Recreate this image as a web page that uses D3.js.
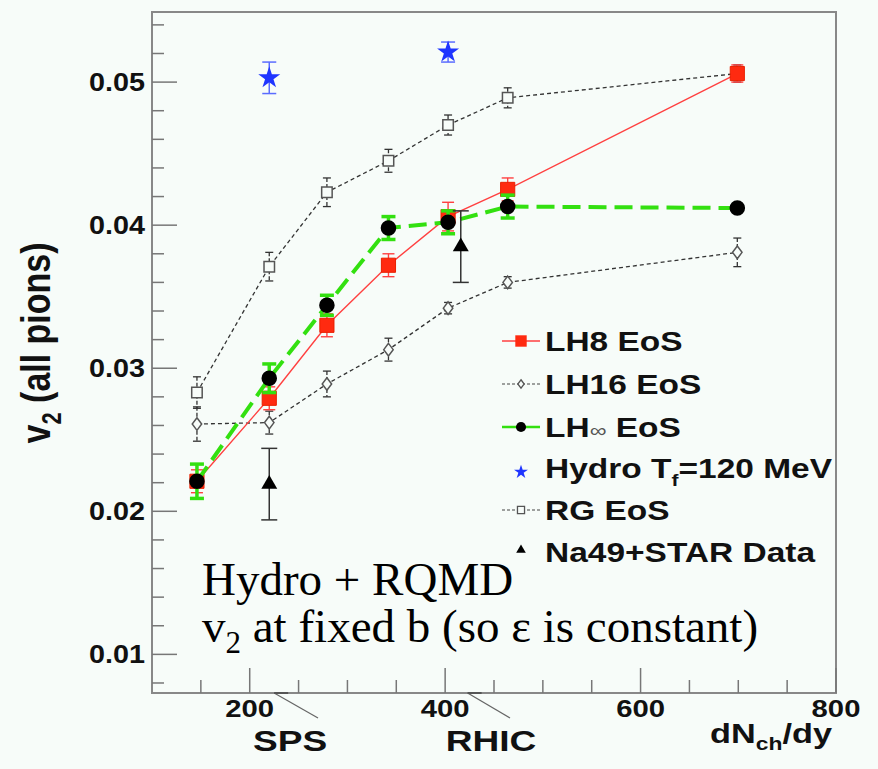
<!DOCTYPE html>
<html><head><meta charset="utf-8">
<script src="https://cdn.jsdelivr.net/npm/d3@7"></script>
<style>
html,body{margin:0;padding:0;background:#f7fcf9;}
svg{display:block;}
</style></head>
<body>
<script>
// ---------- data ----------
const xVals   = [146, 220, 279, 342, 403, 464, 699];
const lh8     = [0.0221, 0.0279, 0.0330, 0.0372, 0.0406, 0.0425, 0.0506];
const lh8Err  = [0.0008, 0.0008, 0.0008, 0.0008, 0.0010, 0.0008, 0.0006];
const lh16    = [0.0261, 0.0262, 0.0289, 0.0313, 0.0342, 0.0360, 0.0381];
const lh16Err = [0.0012, 0.0008, 0.0009, 0.0008, 0.0004, 0.0004, 0.0010];
const lhInf   = [0.0221, 0.0293, 0.0344, 0.0398, 0.0402, 0.0413, 0.0412];
const lhInfErr= [0.0012, 0.0010, 0.0007, 0.0008, 0.0008, 0.0008, 0.0000];
const rg      = [0.0283, 0.0371, 0.0423, 0.0445, 0.0470, 0.0489, 0.0506];
const rgErr   = [0.0011, 0.0010, 0.0010, 0.0008, 0.0007, 0.0007, 0.0006];
const hydroX  = [220, 403];
const hydroY  = [0.0503, 0.0521];
const hydroErr= [0.0011, 0.0007];
const expX    = [220, 416];
const expY    = [0.0219, 0.0385];
const expErr  = [0.0025, 0.0025];
const xMajorTicks = [200, 400, 600, 800];
const xMinorTicks = [150, 250, 300, 350, 450, 500, 550, 650, 700, 750];
const yMajorTicks = [0.01, 0.02, 0.03, 0.04, 0.05];
const yMinorTicks = [0.008,0.012,0.014,0.016,0.018,0.022,0.024,0.026,0.028,0.032,0.034,0.036,0.038,0.042,0.044,0.046,0.048,0.052,0.054];
const legendLabels = ["LH8 EoS","LH16 EoS","LH\u221E EoS","Hydro T_f=120 MeV","RG EoS","Na49+STAR Data"];

// ---------- setup ----------
const W = 878, H = 769;
const L = 152, R = 836, T = 12, B = 693;
const SX = 1.22; // horizontal stretch of sans text
const svg = d3.select("body").append("svg").attr("width", W).attr("height", H);
svg.append("rect").attr("width", W).attr("height", H).attr("fill", "#f7fcf9");

const x = d3.scaleLinear().domain([100, 800]).range([L, R]);
const y = d3.scaleLinear().domain([0.0073, 0.0549]).range([B, T]);

const SANS = "'Liberation Sans', Arial, Helvetica, sans-serif";
const SERIF = "'Liberation Serif', 'Times New Roman', serif";

function sText(px, py, anchor, size, sx) {
  const g = svg.append("g").attr("transform", `translate(${px},${py}) scale(${sx||SX},1)`);
  return g.append("text").attr("text-anchor", anchor)
    .attr("font-family", SANS).attr("font-weight", "bold").attr("font-size", size).attr("fill", "#111");
}

// ---------- axes frame & ticks ----------
const axisCol = "#888";
svg.append("rect").attr("x", L).attr("y", T).attr("width", R - L).attr("height", B - T)
  .attr("fill", "none").attr("stroke", axisCol).attr("stroke-width", 2);

svg.selectAll(".xmaj").data(xMajorTicks).join("line")
  .attr("x1", d => x(d)).attr("x2", d => x(d)).attr("y1", B).attr("y2", B - 25)
  .attr("stroke", "#777").attr("stroke-width", 1.5);
svg.selectAll(".xmin").data(xMinorTicks).join("line")
  .attr("x1", d => x(d)).attr("x2", d => x(d)).attr("y1", B).attr("y2", B - 13)
  .attr("stroke", "#777").attr("stroke-width", 1.5);
svg.selectAll(".ymaj").data(yMajorTicks).join("line")
  .attr("x1", L).attr("x2", L + 25).attr("y1", d => y(d)).attr("y2", d => y(d))
  .attr("stroke", "#777").attr("stroke-width", 1.5);
svg.selectAll(".ymin").data(yMinorTicks).join("line")
  .attr("x1", L).attr("x2", L + 12).attr("y1", d => y(d)).attr("y2", d => y(d))
  .attr("stroke", "#777").attr("stroke-width", 1.5);

// tick labels
xMajorTicks.forEach(d => sText(x(d), 717, "middle", 24).text(d3.format("d")(d)));
yMajorTicks.forEach(d => sText(145, y(d) + 9, "end", 25, 1.15).text(d3.format(".2f")(d)));

// axis titles
{
  const g = svg.append("g").attr("transform", `translate(50,343) rotate(-90) scale(1,${SX})`);
  const t = g.append("text").attr("text-anchor", "middle").attr("font-family", SANS)
    .attr("font-weight", "bold").attr("font-size", 34).attr("fill", "#111");
  t.append("tspan").text("v");
  t.append("tspan").attr("font-size", 22).attr("dy", 9).text("2");
  t.append("tspan").attr("dy", -9).text(" (all pions)");
}
{
  const t = sText(832, 743, "end", 27, 1.27);
  t.append("tspan").text("dN");
  t.append("tspan").attr("font-size", 18).attr("dy", 7).text("ch");
  t.append("tspan").attr("dy", -7).text("/dy");
}
sText(290, 751, "middle", 29, 1.28).text("SPS");
sText(491, 751, "middle", 29, 1.28).text("RHIC");
[[225, 318], [423, 510]].forEach(([a, b]) => {
  svg.append("line").attr("x1", x(a)).attr("y1", B).attr("x2", b).attr("y2", 718)
    .attr("stroke", "#666").attr("stroke-width", 1.2);
  svg.append("line").attr("x1", x(a)).attr("y1", B).attr("x2", x(a) + 14).attr("y2", B)
    .attr("stroke", "#555").attr("stroke-width", 2);
});

// ---------- series drawing helpers ----------
const line = d3.line().x(d => x(d[0])).y(d => y(d[1]));
function drawLine(vals, xs, color, width, dash) {
  svg.append("path").datum(xs.map((xv, i) => [xv, vals[i]])).attr("d", line)
    .attr("fill", "none").attr("stroke", color).attr("stroke-width", width)
    .attr("stroke-dasharray", dash || null);
}
function drawErr(vals, errs, xs, color, width, cap, dash) {
  xs.forEach((xv, i) => {
    const e = errs[i]; if (!e) return;
    const cx = x(xv), y1 = y(vals[i] + e), y2 = y(vals[i] - e);
    svg.append("line").attr("x1", cx).attr("x2", cx).attr("y1", y1).attr("y2", y2)
      .attr("stroke", color).attr("stroke-width", width).attr("stroke-dasharray", dash || null);
    [y1, y2].forEach(yy => svg.append("line").attr("x1", cx - cap).attr("x2", cx + cap)
      .attr("y1", yy).attr("y2", yy).attr("stroke", color).attr("stroke-width", width));
  });
}
function sym(type, size, cx, cy, fill, stroke, sw) {
  svg.append("path").attr("d", d3.symbol().type(type).size(size)())
    .attr("transform", `translate(${cx},${cy})`)
    .attr("fill", fill).attr("stroke", stroke || "none").attr("stroke-width", sw || 0);
}
const diamond = { draw(ctx, s) { const r = Math.sqrt(s) / 2; ctx.moveTo(0, -r * 1.2); ctx.lineTo(r * 0.9, 0); ctx.lineTo(0, r * 1.2); ctx.lineTo(-r * 0.9, 0); ctx.closePath(); } };

// RG EoS
drawLine(rg, xVals, "#333", 1.3, "4,3");
drawErr(rg, rgErr, xVals, "#333", 1.3, 4, "4,2");
xVals.forEach((xv, i) => sym(d3.symbolSquare, 110, x(xv), y(rg[i]), "#f7fcf9", "#555", 1.5));

// LH16 EoS
drawLine(lh16, xVals, "#333", 1.3, "4,3");
drawErr(lh16, lh16Err, xVals, "#333", 1.3, 4, "4,2");
xVals.forEach((xv, i) => sym(diamond, 110, x(xv), y(lh16[i]), "#f7fcf9", "#555", 1.5));

// LH8 EoS
drawLine(lh8, xVals, "#ff4040", 1.4);
drawErr(lh8, lh8Err, xVals, "#ff4040", 1.4, 6);
xVals.forEach((xv, i) => sym(d3.symbolSquare, 200, x(xv), y(lh8[i]), "#ff2a10", "#e82000", 1));

// LH-infinity EoS
drawLine(lhInf, xVals, "#33e010", 4, "18,8");
drawErr(lhInf, lhInfErr, xVals, "#33e010", 3.5, 7);
xVals.forEach((xv, i) => sym(d3.symbolCircle, 190, x(xv), y(lhInf[i]), "#000"));

// Hydro T_f = 120 MeV
drawErr(hydroY, hydroErr, hydroX, "#5a6cff", 1.5, 7);
hydroX.forEach((xv, i) => sym(d3.symbolStar, 150, x(xv), y(hydroY[i]), "#1f35ff"));

// Na49 + STAR data
drawErr(expY, expErr, expX, "#333", 1.5, 8);
expX.forEach((xv, i) => sym(d3.symbolTriangle, 110, x(xv), y(expY[i]), "#000"));

// ---------- legend ----------
const legY = [341, 384, 427, 468, 510, 552];
const lx1 = 502, lx2 = 540, lmx = 521;
svg.append("line").attr("x1", lx1).attr("x2", lx2).attr("y1", legY[0]).attr("y2", legY[0]).attr("stroke", "#ff4040").attr("stroke-width", 1.4);
sym(d3.symbolSquare, 130, lmx, legY[0], "#ff2a10");
svg.append("line").attr("x1", lx1).attr("x2", lx2).attr("y1", legY[1]).attr("y2", legY[1]).attr("stroke", "#444").attr("stroke-width", 1.2).attr("stroke-dasharray", "3,2");
sym(diamond, 50, lmx, legY[1], "#f7fcf9", "#555", 1.3);
svg.append("line").attr("x1", lx1).attr("x2", lx2).attr("y1", legY[2]).attr("y2", legY[2]).attr("stroke", "#33e010").attr("stroke-width", 2.5);
sym(d3.symbolCircle, 80, lmx, legY[2], "#000");
sym(d3.symbolStar, 60, lmx, legY[3] + 4, "#1f35ff");
svg.append("line").attr("x1", lx1).attr("x2", lx2).attr("y1", legY[4]).attr("y2", legY[4]).attr("stroke", "#444").attr("stroke-width", 1.2).attr("stroke-dasharray", "3,2");
sym(d3.symbolSquare, 50, lmx, legY[4], "#f7fcf9", "#555", 1.3);
sym(d3.symbolTriangle, 40, lmx, legY[5] - 2, "#000");

legendLabels.forEach((lab, i) => {
  const t = sText(545, legY[i] + 10, "start", 27, 1.24);
  if (lab.indexOf("_f") >= 0) {
    const parts = lab.split("_f");
    t.append("tspan").text(parts[0]);
    t.append("tspan").attr("font-size", 17).attr("dy", 8).text("f");
    t.append("tspan").attr("dy", -8).text(parts[1]);
  } else if (lab.indexOf("\u221E") >= 0) {
    t.append("tspan").text("LH");
    t.append("tspan").attr("font-size", 19).attr("font-weight", "normal").attr("fill", "#555").text("\u221E");
    t.append("tspan").text(" EoS");
  } else {
    t.text(lab);
  }
});

// ---------- annotation ----------
svg.append("text").attr("x", 202).attr("y", 595).attr("font-family", SERIF).attr("font-size", 47)
  .attr("fill", "#000").text("Hydro + RQMD");
{
  const t = svg.append("text").attr("x", 202).attr("y", 642).attr("font-family", SERIF)
    .attr("font-size", 47).attr("fill", "#000");
  t.append("tspan").text("v");
  t.append("tspan").attr("font-size", 31).attr("dy", 11).text("2");
  t.append("tspan").attr("dy", -11).text(" at fixed b (so \u03B5 is constant)");
}
</script>
</body></html>
